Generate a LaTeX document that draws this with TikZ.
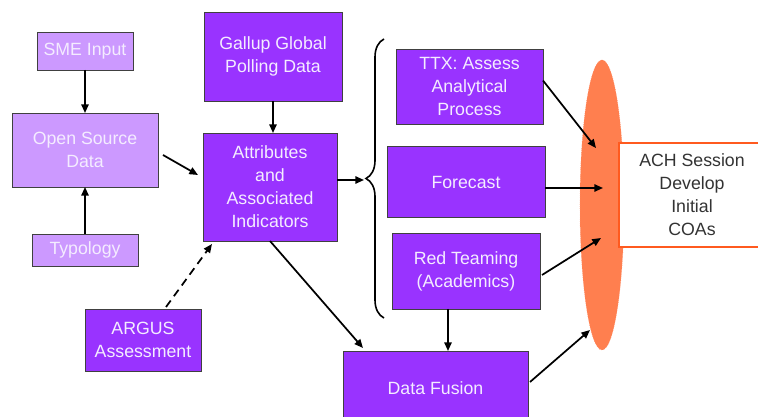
\documentclass[tikz,border=0pt]{standalone}
\usepackage{fontspec}
\setmainfont{Liberation Sans}
\usetikzlibrary{positioning,calc,shapes.geometric,decorations.pathreplacing,arrows.meta}
\definecolor{darkviolet}{HTML}{9933FF}
\definecolor{lightviolet}{HTML}{CC99FF}
\definecolor{boxtext}{HTML}{F4ECFF}
\definecolor{coral}{HTML}{FF7F4F}
\definecolor{coaline}{HTML}{FF5A1F}
\begin{document}
\begin{tikzpicture}[x=0.75pt,y=-0.75pt,
		every node/.style={font=\fontsize{13.3}{17.2}\selectfont},
		darkbox/.style={draw=black!75,fill=darkviolet,text=boxtext,align=center,inner sep=0pt,outer sep=0pt},
		lightbox/.style={draw=black!75,fill=lightviolet,text=boxtext,align=center,inner sep=0pt,outer sep=0pt},
		link/.style={line width=1.3pt,-{Triangle[length=6.5pt,width=5.5pt]}}]
		\path[use as bounding box,clip] (0,0) rectangle (758,417);
		
		% left column
		\node[lightbox,minimum width=72pt,minimum height=28.5pt] (sme) at (85,51) {SME Input};
		\node[lightbox,minimum width=109.5pt,minimum height=55.5pt] (osd) at (85,150) {Open Source\\Data};
		\node[lightbox,minimum width=79.5pt,minimum height=24pt] (typ) at (85,250) {Typology};
		\node[darkbox,minimum width=87pt,minimum height=46.5pt] (argus) at (143,340) {ARGUS\\Assessment};
		
		% middle
		\node[darkbox,minimum width=103.5pt,minimum height=66.75pt] (gallup) at (273,56.5) {Gallup Global\\Polling Data};
		\node[darkbox,minimum width=100.5pt,minimum height=81pt] (attr) at (270,187) {Attributes\\and\\Associated\\Indicators};
		
		% right column
		\node[darkbox,minimum width=110.25pt,minimum height=56.25pt] (ttx) at (469.5,86.5) {TTX: Assess\\Analytical\\Process};
		\node[darkbox,minimum width=118.5pt,minimum height=53.25pt] (fcst) at (466,182) {Forecast};
		\node[darkbox,minimum width=111pt,minimum height=57pt] (red) at (466,271) {Red Teaming\\(Academics)};
		\node[darkbox,minimum width=138.75pt,minimum height=55.5pt] (fusion) at (435.5,388) {Data Fusion};
		
		% ACH session
		\node[ellipse,fill=coral,draw=coaline!70,densely dotted,minimum width=33pt,minimum height=217.5pt,inner sep=0pt] (hub) at (602,205) {};
		\node[draw=coaline,line width=1.2pt,fill=white,text=black!80,align=center,minimum width=109.5pt,minimum height=78pt,inner sep=0pt] (ach) at (692,195) {ACH Session\\Develop\\Initial\\COAs};
		
		\draw[line width=1.2pt,decorate,decoration={brace,amplitude=13.5pt}] (384,318) -- (384,39);
		\coordinate (bracetip) at (364,180);
		\coordinate (redfoot) at ($(red.south)+(-18,0)$);
		
		\draw[link] (sme) -- (osd);
		\draw[link] (typ) -- (osd);
		\draw[link] ($(osd.east)+(5,5)$) -- ($(attr.west)+(-5,-12)$);
		\draw[link] (gallup.south) -- (gallup.south |- attr.north);
		\draw[link,dash pattern=on 6pt off 4pt] ($(argus.north)+(23,-2)$) -- ($(attr.south west)+(9,3)$);
		\draw[link] (attr.east |- bracetip) -- (bracetip);
		\draw[link] (attr.south) -- ($(fusion.north west)+(20,-3)$);
		
		\draw[link] ($(ttx.east)+(0,-6)$) -- ($(hub.center)+(-6,-57)$);
		\draw[link] ($(fcst.east)+(0,6)$) -- ($(hub.center)+(1,-17)$);
		\draw[link] ($(red.east)+(2,4)$) -- ($(hub.center)+(-1,33)$);
		\draw[link] (redfoot) -- (redfoot |- fusion.north);
		\draw[link] ($(fusion.east)+(2,-6)$) -- ($(hub.center)+(-12,125)$);
	\end{tikzpicture}
\end{document}
